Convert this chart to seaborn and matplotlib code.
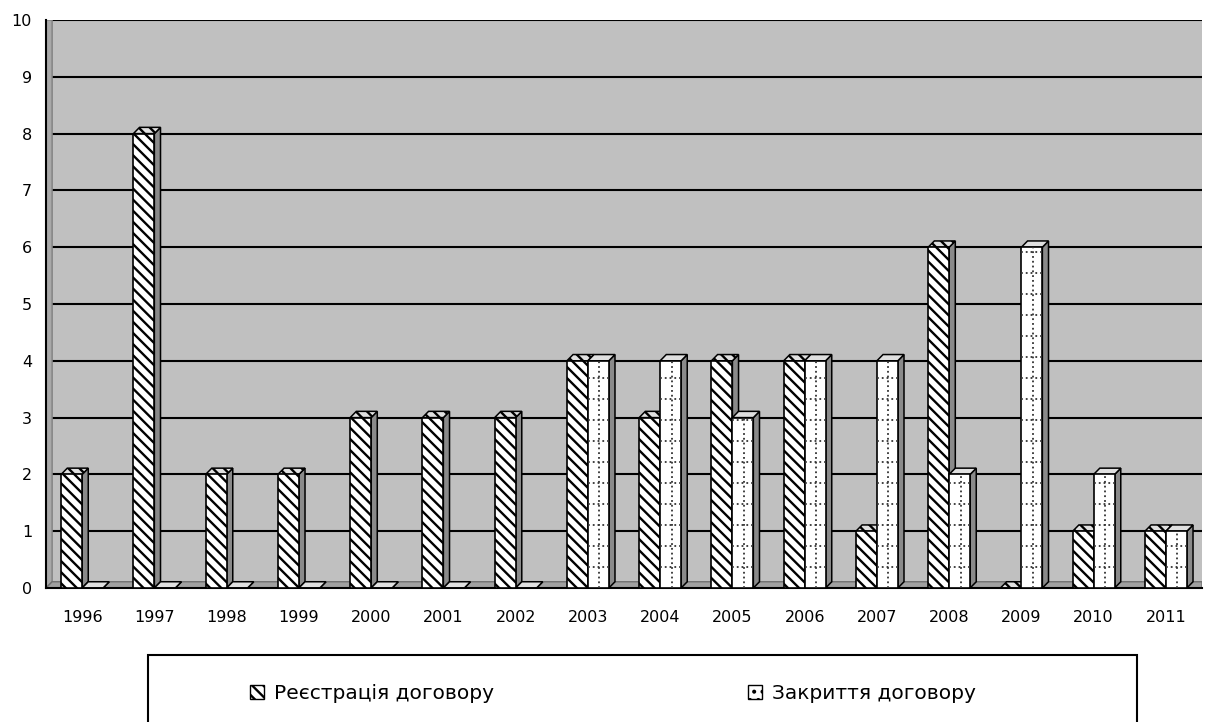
import pandas as pd
import numpy as np
import matplotlib
matplotlib.use("Agg")
import matplotlib.pyplot as plt
from matplotlib.patches import Polygon, Rectangle
import seaborn as sns

years = [str(y) for y in range(1996, 2012)]
registration = [2, 8, 2, 2, 3, 3, 3, 4, 3, 4, 4, 1, 6, 0, 1, 1]
closure = [0, 0, 0, 0, 0, 0, 0, 4, 4, 3, 4, 4, 2, 6, 2, 1]
series_names = ["Реєстрація договору", "Закриття договору"]
y_ticks = list(range(0, 11))

df = pd.DataFrame({
    "Year": years * 2,
    "Count": registration + closure,
    "Series": [series_names[0]] * len(years) + [series_names[1]] * len(years),
})

sns.set_style("white")
plt.rcParams["font.family"] = ["DejaVu Sans"]
plt.rcParams["text.color"] = "black"
plt.rcParams["xtick.color"] = "black"
plt.rcParams["ytick.color"] = "black"
plt.rcParams["hatch.linewidth"] = 1.7

fig = plt.figure(figsize=(12.07, 7.22), dpi=100)
ax = fig.add_axes([0.0381, 0.1856, 0.9578, 0.7867])

sns.barplot(data=df, x="Year", y="Count", hue="Series", order=years,
            hue_order=series_names, palette=["white", "white"],
            width=0.58, gap=0, edgecolor="black", linewidth=1.2,
            legend=False, ax=ax)

ax.set_facecolor("#c0c0c0")
ax.set_xlim(-0.5, len(years) - 0.5)
ax.set_ylim(0, 10)
ax.set_yticks(y_ticks)
ax.set_yticklabels([str(t) for t in y_ticks], fontsize=11.5)
ax.yaxis.grid(True, color="black", linewidth=1.5)
ax.set_axisbelow(True)

ax.set_xticks(np.arange(-0.5, len(years) + 0.5, 1.0))
ax.set_xticklabels([])
ax.set_xticks(np.arange(len(years)), minor=True)
ax.set_xticklabels(years, minor=True, fontsize=11.5)
ax.tick_params(axis="x", which="major", length=6, width=1.2, color="black", direction="out")
ax.tick_params(axis="x", which="minor", length=0, pad=16, labelcolor="black")
ax.tick_params(axis="y", length=6, width=1.2, color="black", direction="out", pad=4,
               labelcolor="black")
ax.set_xlabel("")
ax.set_ylabel("")
for s in ["top", "right"]:
    ax.spines[s].set_visible(False)
for s in ["left", "bottom"]:
    ax.spines[s].set_color("black")
    ax.spines[s].set_linewidth(1.5)

dx, dy = 0.085, 0.11
hatches = ["\\\\\\", ""]

# left wall strip and floor for the 3D look
ax.add_patch(Polygon([(-0.5, 0), (-0.5 + dx, dy), (-0.5 + dx, 10), (-0.5, 10)],
                     closed=True, facecolor="#a8a8a8", edgecolor="#808080", lw=1, zorder=1.5))
ax.add_patch(Polygon([(-0.5, 0), (-0.5 + dx, dy), (len(years) - 0.5, dy), (len(years) - 0.5, 0)],
                     closed=True, facecolor="#a0a0a0", edgecolor="#707070", lw=1, zorder=1.5))

bars = []
for si, cont in enumerate(ax.containers):
    for b in cont:
        bars.append((b.get_x(), si, b))
bars.sort(key=lambda t: t[0])

for k, (_, si, b) in enumerate(bars):
    base = 3 + k * 0.1
    x0 = b.get_x()
    x1 = x0 + b.get_width()
    h = b.get_height()
    b.set_hatch(hatches[si])
    b.set_zorder(base + 0.05)
    side = Polygon([(x1, 0), (x1 + dx, dy), (x1 + dx, h + dy), (x1, h)], closed=True,
                   facecolor="#8a8a8a", edgecolor="black", lw=1.1, zorder=base)
    top = Polygon([(x0, h), (x0 + dx, h + dy), (x1 + dx, h + dy), (x1, h)], closed=True,
                  facecolor="#e0e0e0", edgecolor="black", lw=1.1, hatch=hatches[si], zorder=base)
    ax.add_patch(side)
    ax.add_patch(top)
    if si == 1 and h > 0:
        xc = x0 + b.get_width() * 0.55
        ax.plot([xc, xc], [0, h], ls=":", color="#333333", lw=1.3, zorder=base + 0.06)
        for yy in np.arange(0.37, h, 0.37):
            ax.plot([x0, x1], [yy, yy], ls=":", color="#333333", lw=1.3, zorder=base + 0.06)

# legend
handles = [Rectangle((0, 0), 1, 1, facecolor="white", edgecolor="black", hatch=hatches[0], lw=1),
           Rectangle((0, 0), 1, 1, facecolor="white", edgecolor="black", hatch="..", lw=1)]
fig.legend(handles, series_names, loc="center", bbox_to_anchor=(0.508, 0.040),
           ncol=2, frameon=False, fontsize=14.5, columnspacing=12.6,
           handlelength=0.7, handleheight=0.7, handletextpad=0.5)
fig.patches.append(Rectangle((148 / 1207, -0.02), (1137 - 148) / 1207, 0.02 + (722 - 655) / 722,
                             transform=fig.transFigure, facecolor="none",
                             edgecolor="black", lw=1.5))

fig.savefig("out.png", dpi=100)
